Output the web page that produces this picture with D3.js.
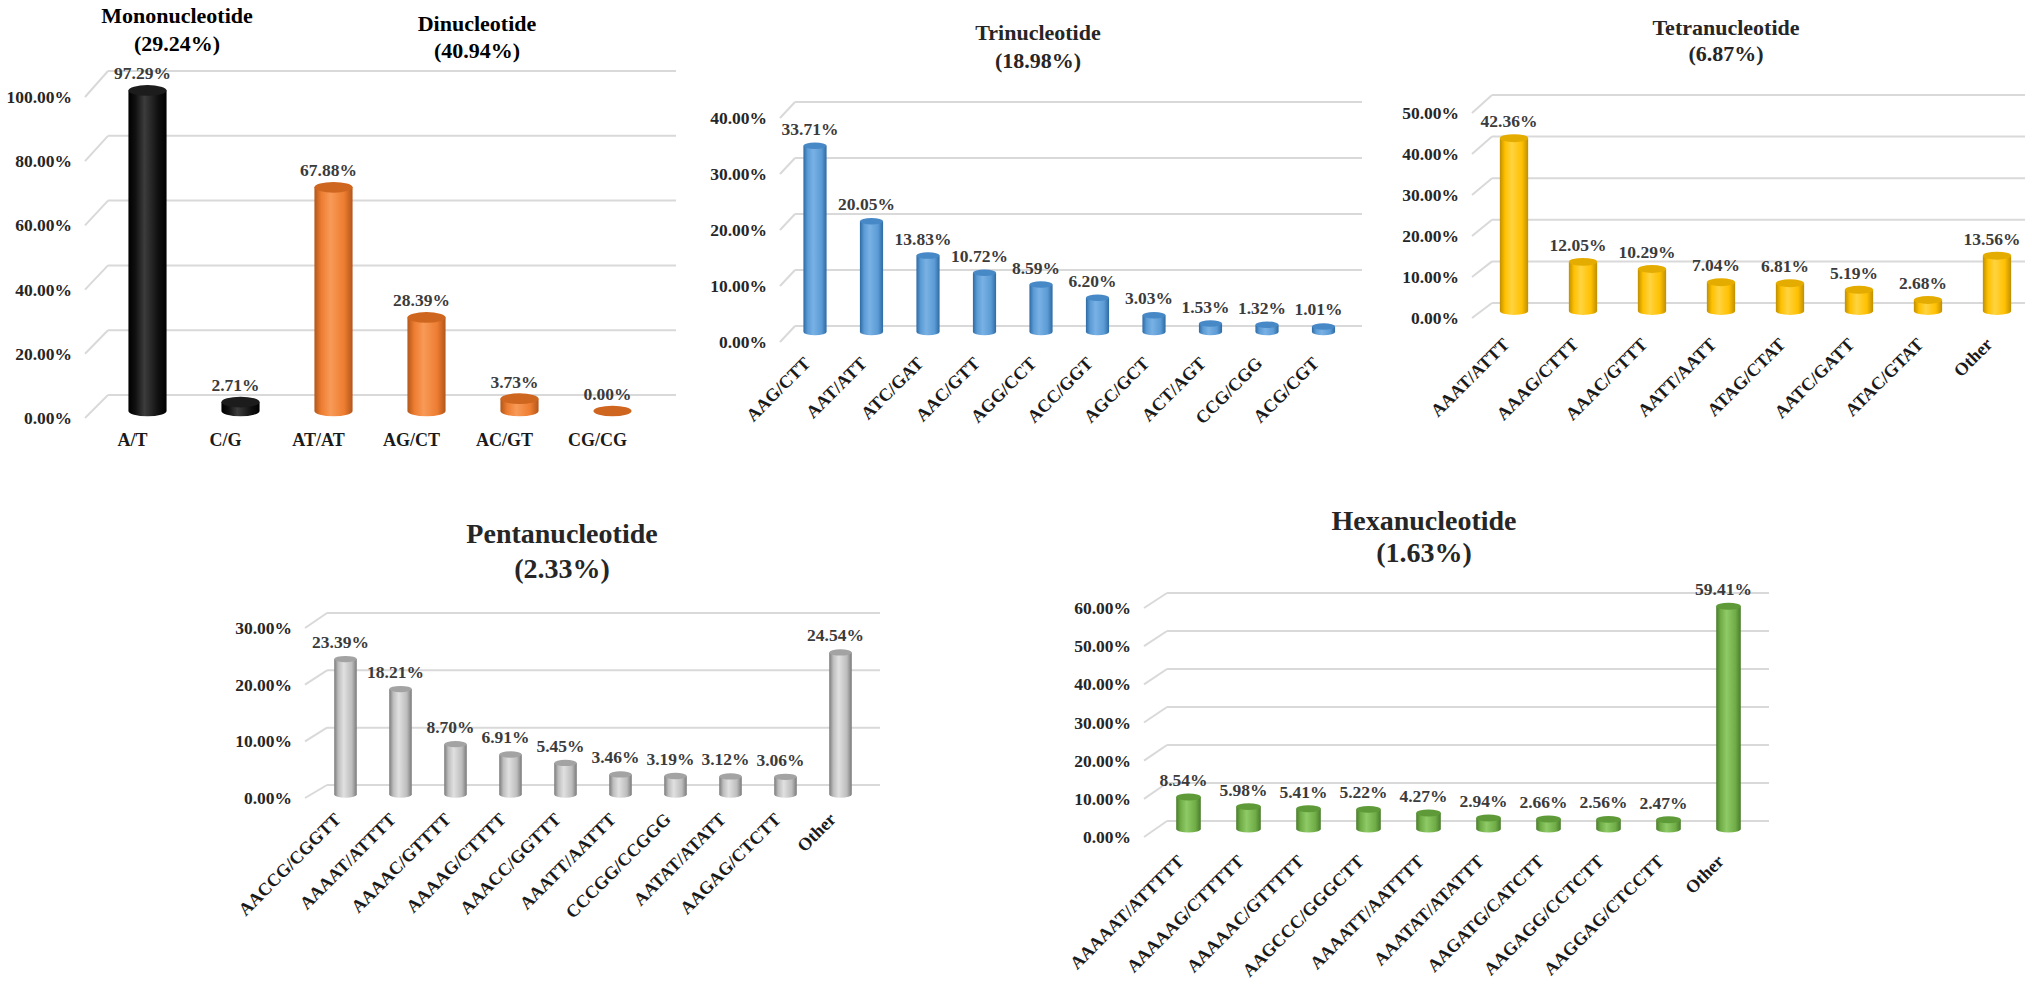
<!DOCTYPE html>
<html>
<head>
<meta charset="utf-8">
<script src="https://cdn.jsdelivr.net/npm/d3@7/dist/d3.min.js"></script>
<style>
    body { margin: 0; background: #fff; }
    text { font-family: "Liberation Serif", "Times New Roman", serif; font-weight: bold; }
</style>
</head>
<body>
<script>
//Chart values (percent)
const monoCats = ["A/T", "C/G"]
const monoVals = [97.29, 2.71]
const diCats = ["AT/AT", "AG/CT", "AC/GT", "CG/CG"]
const diVals = [67.88, 28.39, 3.73, 0.00]

const triCats = ["AAG/CTT", "AAT/ATT", "ATC/GAT", "AAC/GTT", "AGG/CCT", "ACC/GGT", "AGC/GCT", "ACT/AGT", "CCG/CGG", "ACG/CGT"]
const triVals = [33.71, 20.05, 13.83, 10.72, 8.59, 6.20, 3.03, 1.53, 1.32, 1.01]

const tetraCats = ["AAAT/ATTT", "AAAG/CTTT", "AAAC/GTTT", "AATT/AATT", "ATAG/CTAT", "AATC/GATT", "ATAC/GTAT", "Other"]
const tetraVals = [42.36, 12.05, 10.29, 7.04, 6.81, 5.19, 2.68, 13.56]

const pentaCats = ["AACCG/CGGTT", "AAAAT/ATTTT", "AAAAC/GTTTT", "AAAAG/CTTTT", "AAACC/GGTTT", "AAATT/AATTT", "CCCGG/CCGGG", "AATAT/ATATT", "AAGAG/CTCTT", "Other"]
const pentaVals = [23.39, 18.21, 8.70, 6.91, 5.45, 3.46, 3.19, 3.12, 3.06, 24.54]

const hexaCats = ["AAAAAT/ATTTTT", "AAAAAG/CTTTTT", "AAAAAC/GTTTTT", "AAGCCC/GGGCTT", "AAAATT/AATTTT", "AAATAT/ATATTT", "AAGATG/CATCTT", "AAGAGG/CCTCTT", "AAGGAG/CTCCTT", "Other"]
const hexaVals = [8.54, 5.98, 5.41, 5.22, 4.27, 2.94, 2.66, 2.56, 2.47, 59.41]

//Axis maxima and tick steps of each panel
const yMaxes = [100, 40, 50, 30, 60]
const ySteps = [20, 10, 10, 10, 10]

//Cylinder shades: edge, highlight, body, top
const shades = {
    black:  ["#000000", "#3c3c3c", "#101010", "#1c1c1c"],
    orange: ["#b3561a", "#f89a57", "#ed7d31", "#cf661f"],
    blue:   ["#2e6aa3", "#79b1e4", "#5b9bd5", "#4788c6"],
    gold:   ["#bf8f00", "#ffd440", "#ffc000", "#e5ac00"],
    gray:   ["#7a7a7a", "#e0e0e0", "#bdbdbd", "#a3a3a3"],
    green:  ["#4a7c2c", "#8ecb67", "#70ad47", "#5e9b38"]
}

var width = 2032
var height = 984

const svg = d3.select('body')
    .append("svg")
    .attr("width", width)
    .attr("height", height);

//Horizontal gradients to fake the round look of the cylinders
const defs = svg.append("defs")
Object.keys(shades).forEach(k => {
    const s = shades[k]
    const grad = defs.append("linearGradient")
        .attr("id", "grad-" + k)
        .attr("x1", "0%").attr("x2", "100%")
        .attr("y1", "0%").attr("y2", "0%")
    grad.append("stop").attr("offset", "0%").attr("stop-color", s[0])
    grad.append("stop").attr("offset", "18%").attr("stop-color", s[2])
    grad.append("stop").attr("offset", "42%").attr("stop-color", s[1])
    grad.append("stop").attr("offset", "78%").attr("stop-color", s[2])
    grad.append("stop").attr("offset", "100%").attr("stop-color", s[0])
})

//Layout of every panel (pixel boxes only, the values come from the arrays above)
const panels = [
    {
        cats: monoCats.concat(diCats),
        vals: monoVals.concat(diVals),
        colors: monoCats.map(() => "black").concat(diCats.map(() => "orange")),
        band: [101, 659], grid: [108, 676],
        back: [395, 71], front: [418, 97], bar: [411, 81.5],
        labelRight: 72, rotate: false, xLabY: 446
    },
    {
        cats: triCats, vals: triVals, colors: triCats.map(() => "blue"),
        band: [786.75, 1351.75], grid: [795, 1362],
        back: [326, 102], front: [342, 118], bar: [332, 111],
        labelRight: 767, rotate: true, xLabY: 360
    },
    {
        cats: tetraCats, vals: tetraVals, colors: tetraCats.map(() => "gold"),
        band: [1479.5, 2031.5], grid: [1492, 2025],
        back: [303, 95], front: [318, 113], bar: [311, 107],
        labelRight: 1459, rotate: true, xLabY: 341
    },
    {
        cats: pentaCats, vals: pentaVals, colors: pentaCats.map(() => "gray"),
        band: [318, 868], grid: [327, 880],
        back: [785, 613], front: [798, 628], bar: [794.5, 620.8],
        labelRight: 292, rotate: true, xLabY: 816
    },
    {
        cats: hexaCats, vals: hexaVals, colors: hexaCats.map(() => "green"),
        band: [1158.5, 1758.5], grid: [1167, 1769],
        back: [821, 593], front: [837, 608], bar: [829, 604],
        labelRight: 1131, rotate: true, xLabY: 858
    }
]

const titles = [
    { lines: ["Mononucleotide", "(29.24%)"], x: 177, y: 15, size: 22, gap: 28, fill: "#000" },
    { lines: ["Dinucleotide", "(40.94%)"], x: 477, y: 23, size: 22, gap: 27, fill: "#000" },
    { lines: ["Trinucleotide", "(18.98%)"], x: 1038, y: 32, size: 22, gap: 28, fill: "#262626" },
    { lines: ["Tetranucleotide", "(6.87%)"], x: 1726, y: 27, size: 22, gap: 26, fill: "#262626" },
    { lines: ["Pentanucleotide", "(2.33%)"], x: 562, y: 533, size: 28, gap: 35, fill: "#262626" },
    { lines: ["Hexanucleotide", "(1.63%)"], x: 1424, y: 520, size: 28, gap: 32, fill: "#262626" }
]

var render = (p, i) => {
    const yMax = yMaxes[i]
    const ticks = d3.range(0, yMax + 0.001, ySteps[i])

    //Back wall scale (gridlines), front scale (tick labels) and mid depth scale (bars)
    const yBack = d3.scaleLinear().domain([0, yMax]).range(p.back)
    const yFront = d3.scaleLinear().domain([0, yMax]).range(p.front)
    const yBar = d3.scaleLinear().domain([0, yMax]).range(p.bar)
    const xScale = d3.scaleBand().domain(p.cats).range(p.band)
    const cx = d => xScale(d) + xScale.bandwidth() / 2
    const w = xScale.bandwidth() * 0.41

    const g = svg.append("g")

    //gridlines on the back wall plus the slanted side wall lines
    g.selectAll(".grid").data(ticks).enter().append("line")
        .attr("x1", p.grid[0]).attr("x2", p.grid[1])
        .attr("y1", d => yBack(d)).attr("y2", d => yBack(d))
        .attr("stroke", "#d9d9d9").attr("stroke-width", 2)
    g.selectAll(".side").data(ticks).enter().append("line")
        .attr("x1", p.labelRight + 13).attr("x2", p.grid[0])
        .attr("y1", d => yFront(d)).attr("y2", d => yBack(d))
        .attr("stroke", "#d9d9d9").attr("stroke-width", 2)

    //tick labels
    g.selectAll(".tick").data(ticks).enter().append("text")
        .attr("x", p.labelRight)
        .attr("y", d => yFront(d) + 6)
        .attr("text-anchor", "end")
        .attr("font-size", "17.5px")
        .attr("fill", "#262626")
        .text(d => d3.format(".2f")(d) + "%")

    //cylinders
    p.cats.forEach((c, j) => {
        const v = p.vals[j]
        const s = shades[p.colors[j]]
        const x0 = cx(c) - w / 2, x1 = cx(c) + w / 2
        const rx = w / 2, ry = w * 0.14
        const yTop = yBar(v), yBase = yBar(0)
        if (v > 0) {
            g.append("path")
                .attr("d", `M${x0},${yTop} L${x0},${yBase} A${rx},${ry} 0 0 0 ${x1},${yBase} L${x1},${yTop} Z`)
                .attr("fill", "url(#grad-" + p.colors[j] + ")")
        }
        g.append("ellipse")
            .attr("cx", cx(c)).attr("cy", yTop)
            .attr("rx", rx).attr("ry", ry)
            .attr("fill", s[3])
    })

    //value labels above the bars
    g.selectAll(".val").data(p.cats).enter().append("text")
        .attr("x", d => cx(d) - 5)
        .attr("y", (d, j) => yBar(p.vals[j]) - 11)
        .attr("text-anchor", "middle")
        .attr("font-size", "17.5px")
        .attr("fill", "#3b3b3b")
        .text((d, j) => d3.format(".2f")(p.vals[j]) + "%")

    //category labels
    if (p.rotate) {
        g.selectAll(".cat").data(p.cats).enter().append("text")
            .attr("transform", d => "translate(" + (cx(d) - 8) + "," + p.xLabY + ") rotate(-45)")
            .attr("dy", "0.35em")
            .attr("text-anchor", "end")
            .attr("font-size", "18px")
            .attr("fill", "#1a1a1a")
            .text(d => d)
    } else {
        g.selectAll(".cat").data(p.cats).enter().append("text")
            .attr("x", d => cx(d) - 15)
            .attr("y", p.xLabY)
            .attr("text-anchor", "middle")
            .attr("font-size", "18px")
            .attr("fill", "#1a1a1a")
            .text(d => d)
    }
}

panels.forEach(render)

//Titles
titles.forEach(t => {
    t.lines.forEach((line, k) => {
        svg.append("text")
            .attr("x", t.x)
            .attr("y", t.y + k * t.gap + t.size * 0.35)
            .attr("text-anchor", "middle")
            .attr("font-size", t.size + "px")
            .attr("fill", t.fill)
            .text(line)
    })
})
</script>
</body>
</html>
